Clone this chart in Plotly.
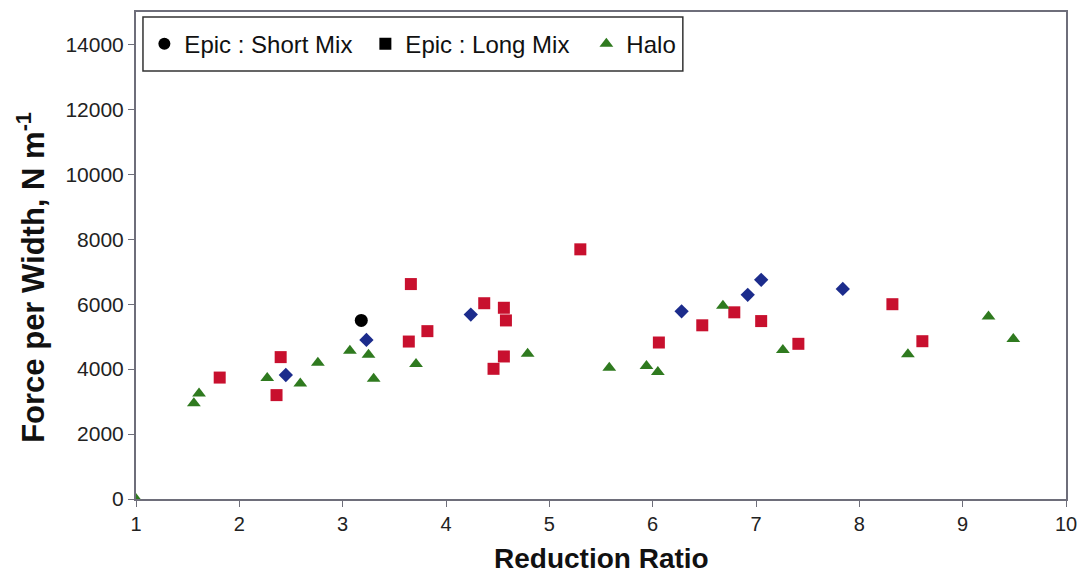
import plotly.graph_objects as go

# Epic : Short Mix (black circle)
short_x = [3.18]
short_y = [5500]

# Epic : Long Mix (red squares)
long_x = [1.81, 2.40, 2.36, 3.66, 3.64, 3.82, 4.37, 4.56, 4.58, 4.56, 4.46, 5.30,
          6.06, 6.48, 6.79, 7.05, 7.41, 8.32, 8.61]
long_y = [3740, 4370, 3200, 6620, 4850, 5170, 6030, 5890, 5500, 4390, 4010, 7690,
          4820, 5350, 5750, 5480, 4780, 6000, 4860]

# Blue diamonds (unlabelled series)
dia_x = [2.45, 3.23, 4.24, 6.28, 6.92, 7.05, 7.84]
dia_y = [3820, 4900, 5680, 5780, 6290, 6750, 6470]

# Halo (green triangles)
halo_x = [1.00, 1.56, 1.61, 2.27, 2.59, 2.76, 3.07, 3.25, 3.30, 3.71, 4.79, 5.58,
          5.94, 6.05, 6.68, 7.26, 8.47, 9.25, 9.49]
halo_y = [0, 2950, 3250, 3730, 3560, 4200, 4570, 4440, 3700, 4160, 4470, 4040,
          4100, 3910, 5950, 4590, 4460, 5620, 4930]

y_ticks = [0, 2000, 4000, 6000, 8000, 10000, 12000, 14000]

font_family = "Liberation Sans, Arial, sans-serif"

fig = go.Figure()
fig.add_trace(go.Scatter(x=dia_x, y=dia_y, mode="markers", showlegend=False,
                         marker=dict(symbol="diamond", size=11, color="#1c2c8c")))
fig.add_trace(go.Scatter(x=long_x, y=long_y, mode="markers", showlegend=False,
                         marker=dict(symbol="square", size=12, color="#c8102e")))
fig.add_trace(go.Scatter(x=short_x, y=short_y, mode="markers", name="Epic : Short Mix",
                         marker=dict(symbol="circle", size=13, color="black")))
fig.add_trace(go.Scatter(x=[None], y=[None], mode="markers", name="Epic : Long Mix",
                         marker=dict(symbol="square", size=11, color="black")))
fig.add_trace(go.Scatter(x=halo_x, y=halo_y, mode="markers", name="Halo",
                         marker=dict(symbol="triangle-up", size=12, color="#2f7a1f")))

axis_common = dict(
    showgrid=False, zeroline=False, showline=True, linecolor="#6e6e7a", linewidth=2,
    mirror=True, ticks="outside", ticklen=6, tickcolor="#6e6e7a", automargin=False,
)

fig.update_layout(
    width=1092, height=578,
    margin=dict(l=136, r=26, t=12, b=79),
    paper_bgcolor="white", plot_bgcolor="white",
    font=dict(family=font_family, color="#111111"),
    xaxis=dict(range=[1, 10], dtick=1, **axis_common,
               tickfont=dict(family=font_family, size=20, color="#222222")),
    yaxis=dict(range=[0, 15000], tickvals=y_ticks, tickformat="d",
               **axis_common,
               tickfont=dict(family=font_family, size=21, color="#222222")),
    legend=dict(orientation="h", x=0.009, y=0.934, xanchor="left", yanchor="middle",
                borderwidth=0, bgcolor="rgba(0,0,0,0)", entrywidth=176,
                font=dict(size=24, family=font_family, color="#111111"),
                itemsizing="constant"),
    shapes=[dict(type="rect", xref="paper", yref="paper",
                 x0=0.0075, x1=0.588, y0=0.879, y1=0.9897,
                 line=dict(color="#333333", width=1.5), fillcolor="white", layer="below")],
    annotations=[
        dict(text="<b>Reduction Ratio</b>", xref="paper", yref="paper",
             x=0.5, y=-0.158, xanchor="center", yanchor="bottom", showarrow=False,
             font=dict(size=28, family=font_family, color="#111111")),
        dict(text="<b>Force per Width, N m<sup>-1</sup></b>", xref="paper", yref="paper",
             x=-0.113, y=0.456, xanchor="center", yanchor="middle", textangle=-90,
             showarrow=False, font=dict(size=31, family=font_family, color="#111111")),
    ],
)

fig.write_html("out.html")
